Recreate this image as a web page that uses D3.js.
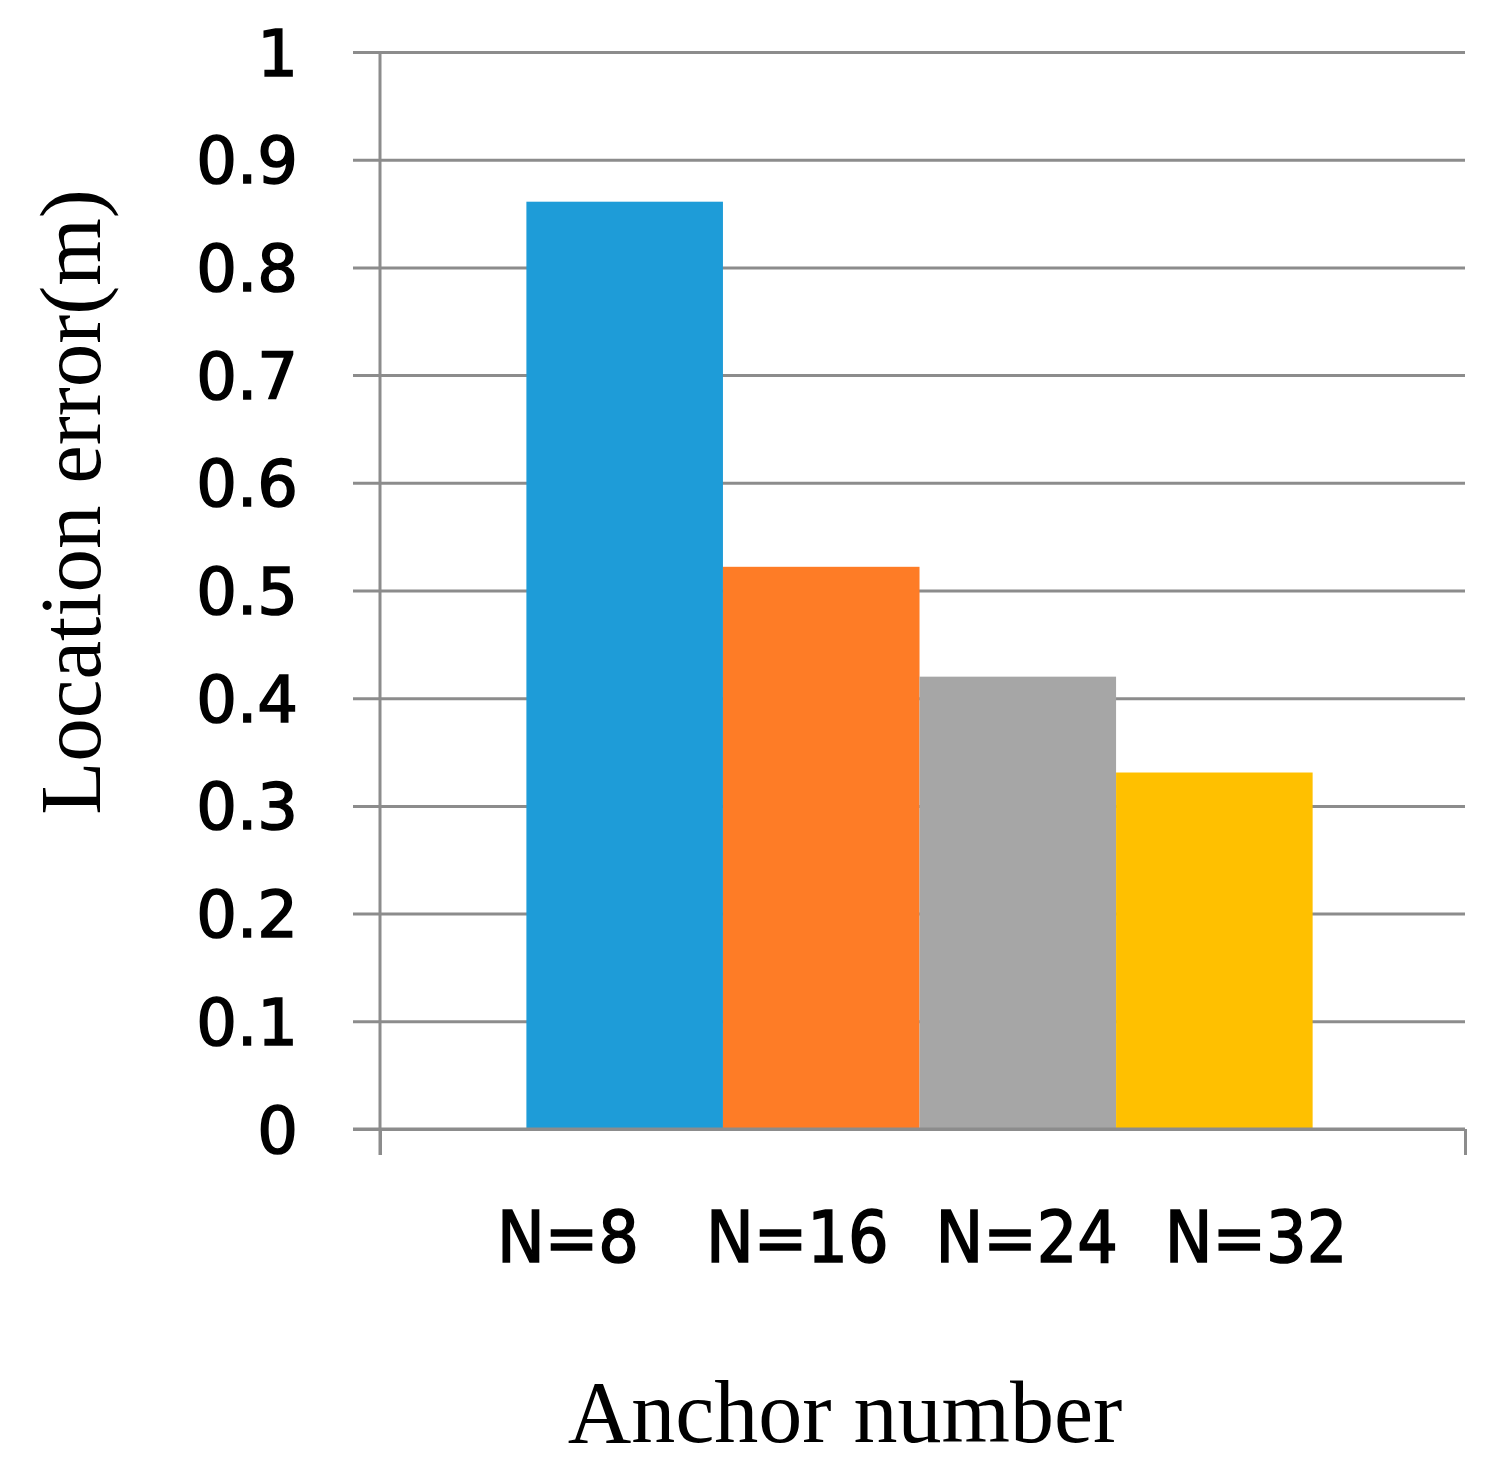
<!DOCTYPE html>
<html>
<head>
<meta charset="utf-8">
<script src="https://cdn.jsdelivr.net/npm/d3@7"></script>
<style>
  body { margin: 0; background: #fff; }
  .tick text { font-family: "DejaVu Sans", sans-serif; fill: #000; }
</style>
</head>
<body>
<div id="chart"></div>
<script>
// data
var categories = ["N=8", "N=16", "N=24", "N=32"];
var errors = [0.861, 0.522, 0.42, 0.331];
var colors = ["#1e9cd8", "#fe7c26", "#a6a6a6", "#ffc000"];
var yTicks = [0, 0.1, 0.2, 0.3, 0.4, 0.5, 0.6, 0.7, 0.8, 0.9, 1];

var width = 1499, height = 1479;
var gridLeft = 353, axisX = 380, plotRight = 1465;
var plotTop = 52, plotBottom = 1129;
var gridColor = "#8c8c8c";

var svg = d3.select("#chart").append("svg")
  .attr("width", width)
  .attr("height", height);

// scales
var y = d3.scaleLinear()
  .domain([0, 1])
  .range([plotBottom, plotTop]);

var x = d3.scaleBand() // bars sit side by side in one group
  .domain(categories)
  .range([axisX, plotRight])
  .paddingInner(0)
  .paddingOuter(0.76)
  .align(0.49);

var labelX = d3.scalePoint() // labels under the group
  .domain(categories)
  .range([568, 1256]);

//gridlines + tick labels
var grid = svg.append("g")
  .attr("transform", "translate(" + gridLeft + ",0)")
  .call(d3.axisLeft(y)
    .tickValues(yTicks)
    .tickSize(-(plotRight - gridLeft))
    .tickPadding(55)
    .tickFormat(d3.format("")));
grid.select(".domain").remove();
grid.selectAll(".tick line")
  .attr("stroke", gridColor)
  .attr("stroke-width", 3);
grid.selectAll(".tick text")
  .attr("font-size", 64)
  .attr("stroke", "#000")
  .attr("stroke-width", 1.6)
  .attr("dy", "0.36em");

//bars
svg.selectAll(".bar")
    .data(errors)
  .enter().append("rect")
    .attr("class", "bar")
    .attr("x", function(d, i) { return x(categories[i]); })
    .attr("width", x.bandwidth())
    .attr("y", function(d) { return y(d); })
    .attr("height", function(d) { return y(0) - y(d); })
    .attr("fill", function(d, i) { return colors[i]; });

//x axis: baseline with end ticks
var xEdge = d3.scaleLinear().domain([0, 1]).range([axisX, plotRight]);
var xAxis = svg.append("g")
  .attr("transform", "translate(0," + y(0) + ")")
  .call(d3.axisBottom(xEdge).tickValues([0, 1]).tickSize(26).tickSizeOuter(0).tickFormat(""));
xAxis.select(".domain").remove();
xAxis.selectAll(".tick line").attr("stroke", gridColor).attr("stroke-width", 3);
svg.append("line")
  .attr("x1", gridLeft).attr("x2", plotRight)
  .attr("y1", y(0)).attr("y2", y(0))
  .attr("stroke", gridColor).attr("stroke-width", 3);

//y axis line
svg.append("line")
  .attr("x1", axisX).attr("x2", axisX)
  .attr("y1", y(1)).attr("y2", y(0) + 26)
  .attr("stroke", gridColor).attr("stroke-width", 3);

//category labels
svg.selectAll(".cat")
    .data(categories)
  .enter().append("text")
    .attr("class", "cat")
    .attr("x", function(d) { return labelX(d); })
    .attr("y", 1262)
    .attr("text-anchor", "middle")
    .attr("font-family", "DejaVu Sans Condensed, DejaVu Sans, sans-serif")
    .attr("font-size", 71)
    .attr("fill", "#000")
    .attr("stroke", "#000")
    .attr("stroke-width", 1.6)
    .text(function(d) { return d; });

//axis titles
svg.append("text")
  .attr("x", 845)
  .attr("y", 1442)
  .attr("text-anchor", "middle")
  .attr("font-family", "Liberation Serif, serif")
  .attr("font-size", 88)
  .attr("fill", "#000")
  .text("Anchor number");

svg.append("text")
  .attr("transform", "translate(100,502) rotate(-90)")
  .attr("text-anchor", "middle")
  .attr("font-family", "Liberation Serif, serif")
  .attr("font-size", 87)
  .attr("fill", "#000")
  .text("Location error(m)");
</script>
</body>
</html>
